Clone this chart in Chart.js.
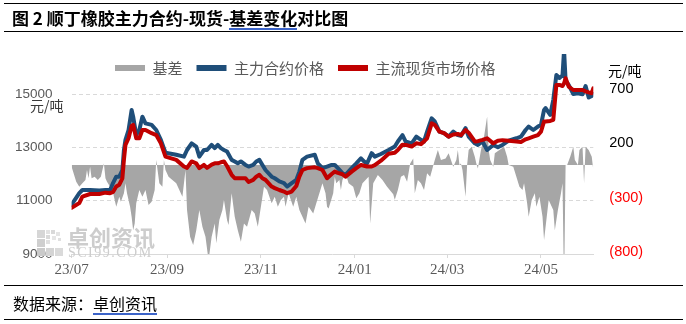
<!DOCTYPE html>
<html>
<head>
<meta charset="utf-8">
<script src="https://cdn.jsdelivr.net/npm/chart.js@4.4.1/dist/chart.umd.min.js"></script>
<style>
  html, body { margin: 0; padding: 0; background: #fff; }
  #page { position: relative; width: 686px; height: 324px; overflow: hidden; font-family: "Noto Sans CJK SC", sans-serif; }
  #chart { position: absolute; left: 0; top: 0; }
  .rule { position: absolute; left: 4px; right: 3px; height: 0; border-top: 1.5px solid #000; z-index: 2; }
  #title { position: absolute; left: 12px; top: 5px; font-size: 17px; font-weight: bold; line-height: 26px; color: #000; white-space: nowrap; z-index: 2; }
  #title .ul { border-bottom: 2px solid #3b63c8; line-height: 20px; display: inline-block; }
  #source { position: absolute; left: 13px; top: 290px; font-size: 16px; line-height: 26px; color: #000; white-space: nowrap; z-index: 2; }
  #source .ul { border-bottom: 2px solid #3b63c8; line-height: 20px; display: inline-block; }
</style>
</head>
<body>
<div id="page">
  <div class="rule" style="top:3px"></div>
  <div id="title">图 2 顺丁橡胶主力合约-现货-<span class="ul">基差变化</span>对比图</div>
  <div class="rule" style="top:31px"></div>
  <canvas id="chart" width="686" height="324"></canvas>
  <div class="rule" style="top:285px"></div>
  <div id="source">数据来源：<span class="ul">卓创资讯</span></div>
  <div class="rule" style="top:319px"></div>
</div>
<script>
// x 轴：自 2023-07-01 起的天数
const monthTickDays = [0, 62, 123, 184, 244, 305];
const monthLabels = ['23/07', '23/09', '23/11', '24/01', '24/03', '24/05'];
const priceTicks = [9000, 11000, 13000, 15000];
const basisTicks = [-800, -300, 200, 700];

// 价格（元/吨）
const priceDays = [
  0, 5, 7, 12, 18, 22, 25, 27, 29, 31,
  33, 34, 35, 37, 39, 40, 42, 44, 46, 48,
  52, 55, 58, 61, 68, 73, 75, 78, 81, 83,
  86, 88, 91, 93, 95, 97, 99, 101, 104, 106,
  108, 110, 113, 115, 118, 120, 122, 124, 126, 130,
  132, 135, 138, 140, 143, 146, 148, 150, 153, 158,
  160, 163, 166, 169, 171, 173, 176, 178, 182, 185,
  188, 190, 192, 195, 197, 201, 206, 210, 212, 215,
  217, 221, 224, 227, 229, 231, 234, 236, 239, 242,
  245, 248, 251, 253, 256, 258, 262, 264, 267, 270,
  274, 277, 280, 284, 289, 292, 295, 297, 300, 303,
  305, 307, 308, 311, 313, 315, 317, 319, 320, 321,
  323, 326, 329, 332, 334, 336, 338, 339
];
const futures = [
  10850, 11280, 11400, 11400, 11380, 11400, 11400, 11670, 11900, 11900,
  12150, 12900, 13280, 13650, 14400, 14150, 13460, 13650, 14150, 13900,
  13840, 13650, 13280, 12800, 12720, 12650, 12900, 13150, 13030, 12650,
  12900, 12900, 13090, 12970, 13090, 12970, 12900, 12840, 12530, 12470,
  12400, 12470, 12340, 12280, 12340, 12470, 12530, 12340, 12150, 11900,
  11840, 11720, 11660, 11530, 11660, 11780, 12090, 12530, 12650, 12720,
  12400, 12220, 12280, 12340, 12340, 12220, 12030, 11970, 12220, 12400,
  12590, 12470, 12400, 12780, 12650, 12750, 12900, 13030, 13220, 13460,
  13220, 13150, 13400, 13280, 13220, 13590, 14090, 13970, 13590, 13530,
  13400, 13590, 13460, 13430, 13720, 13400, 13150, 13090, 13220, 12900,
  13090, 13000, 13090, 13250, 13340, 13400, 13650, 13780, 13650, 13780,
  13840, 14400, 14470, 14220, 14780, 15710, 15600, 15700, 16650, 15500,
  15340, 15000, 15030, 14990, 15300, 14870, 14930, 15000
];
const spot = [
  10730, 10910, 11150, 11250, 11250, 11300, 11280, 11330, 11530, 11600,
  11840, 12530, 13090, 13340, 13800, 13840, 13340, 13340, 13650, 13650,
  13530, 13460, 13150, 12650, 12530, 12280, 12230, 12470, 12400, 12220,
  12340, 12230, 12350, 12400, 12400, 12440, 12470, 12300, 11970, 11840,
  11840, 11840, 11840, 11700, 11780, 11900, 11970, 11840, 11780, 11530,
  11470, 11400, 11340, 11280, 11340, 11550, 11900, 12150, 12220, 12250,
  12220, 12150, 11840, 12000, 12090, 12040, 11990, 11900, 12090, 12220,
  12340, 12310, 12280, 12280, 12330, 12500, 12760, 12800, 12900, 13100,
  13090, 13030, 13150, 13120, 13220, 13340, 13900, 13840, 13590, 13530,
  13400, 13480, 13500, 13460, 13650, 13550, 13220, 13230, 13280, 13340,
  13150, 13250, 13270, 13250, 13220, 13200, 13300, 13340, 13400, 13460,
  13590, 13970, 13970, 13990, 14030, 15340, 15340, 15300, 15400, 15590,
  15280, 15150, 15150, 15150, 15100, 15060, 15030, 15210
];

// 基差（元/吨）
const basisDays = [
  0, 1, 3, 5, 7, 9, 10, 11, 12, 13,
  15, 17, 19, 21, 22, 23, 25, 27, 29, 31,
  32, 34, 35, 36, 38, 39, 40, 41, 42, 44,
  46, 48, 50, 52, 54, 55, 57, 59, 60, 61,
  63, 68, 72, 74, 75, 77, 79, 81, 83, 85,
  87, 89, 91, 93, 94, 96, 98, 99, 101, 102,
  104, 106, 108, 110, 112, 114, 117, 119, 121, 123,
  125, 127, 130, 132, 134, 136, 138, 139, 141, 144,
  146, 148, 150, 152, 154, 157, 159, 161, 163, 165,
  166, 167, 170, 171, 172, 174, 175, 176, 178, 180,
  183, 185, 187, 189, 191, 193, 194, 196, 199, 202,
  205, 209, 210, 212, 214, 216, 218, 220, 222, 223,
  225, 227, 229, 231, 233, 236, 238, 240, 243, 245,
  248, 250, 251, 252, 253, 254, 256, 257, 258, 260,
  262, 263, 264, 266, 268, 270, 271, 272, 274, 275,
  278, 281, 283, 284, 287, 289, 291, 293, 294, 296,
  297, 299, 301, 302, 304, 306, 307, 309, 310, 313,
  314, 316, 318, 319, 320, 321, 322, 324, 326, 327,
  329, 330, 332, 333, 334, 336, 338, 339
];
const basis = [
  -15, -61, -154, -200, -169, -138, -46, -123, -15, -123,
  -108, -138, -108, 15, -123, -154, -200, -261, -384, -292,
  -338, -261, -169, -261, -384, -476, -600, -538, -353, -230,
  -292, -230, -369, -338, -230, 46, -169, -200, 46, -46,
  -108, -169, -292, -46, -415, -661, -738, -600, -415, -569,
  -661, -880, -661, -538, -722, -507, -415, -323, -507, -553,
  -261, -476, -600, -707, -538, -569, -415, -446, -569, -384,
  -200, -230, -353, -292, -384, -323, -292, -384, -261, -384,
  -292, -415, -476, -538, -384, -446, -353, -261, -169, -261,
  -384, -400, -261, -108, -169, -138, -230, -138, -77, -169,
  -200, -307, -261, -169, -138, -108, -538, -169, -92, -138,
  -200, -270, -320, -230, -108, -92, -154, 15, 61, -261,
  -138, -169, -230, -77, -108, 46, 138, 46, 61, 108,
  -15, 46, 138, 0, 15, -46, -292, 0, 138, 169,
  77, 15, -31, 138, 261, 446, 138, 46, -15, 108,
  138, 169, 77, 0, -15, -108, -200, -230, -169, -353,
  -476, -323, -261, -384, -292, -476, -691, -446, -323, -415,
  -600, -415, -261, -169, -1150, 0, 0, 77, 169, 46,
  0, 138, 169, -169, 169, 138, 77, -46
];

const toPoints = (days, values) => days.map((d, i) => ({ x: d, y: values[i] }));

const CJK = '"Noto Sans CJK SC", sans-serif';

// 水印与单位文字
const decorations = {
  id: 'decorations',
  beforeDatasetsDraw(chart) {
    const ctx = chart.ctx;
    ctx.save();
    // 方块标志
    const cells = [
      [37, 230, 8, '#d6d6d6'], [46, 230, 4, '#e2e2e2'], [51, 230, 4, '#d9d9d9'], [56, 232, 4, '#e4e4e4'],
      [46, 235, 4, '#d9d9d9'], [52, 236, 4, '#e6e6e6'], [58, 238, 3, '#e0e0e0'],
      [37, 239, 8, '#cfcfcf'], [46, 240, 4, '#e0e0e0'],
      [37, 248, 8, '#cacaca'], [46, 248, 8, '#d4d4d4'], [55, 248, 8, '#dadada']
    ];
    cells.forEach(([x, y, s, c]) => { ctx.fillStyle = c; ctx.fillRect(x, y, s, s); });
    ctx.fillStyle = '#cdcdcd';
    ctx.textBaseline = 'middle';
    ctx.font = 'bold 22px ' + CJK;
    ctx.fillText('卓创资讯', 67, 238);
    ctx.font = '14px "Liberation Serif"';
    ctx.letterSpacing = '1.5px';
    ctx.fillText('SCI99.COM', 68, 253);
    ctx.restore();
  },
  afterDraw(chart) {
    const ctx = chart.ctx;
    ctx.save();
    ctx.font = '14px ' + CJK;
    ctx.textBaseline = 'middle';
    ctx.fillStyle = '#3a3a3a';
    ctx.fillText('元/吨', 30, 106);
    ctx.fillStyle = '#000';
    ctx.fillText('元/吨', 608, 71);
    ctx.restore();
  }
};

// 图例压在绘图区上方，不占用布局高度
const legendSpot = {
  id: 'legendSpot',
  beforeLayout(chart) {
    const lg = chart.legend;
    if (lg && !lg._flat) {
      const fit = lg.fit.bind(lg);
      lg.fit = function () { fit(); this.height = 0; };
      lg._flat = true;
    }
  },
  afterLayout(chart) {
    const lg = chart.legend;
    const pad = lg.options.labels.padding;
    lg.left = 115 - pad;
    lg.right = 686;
    lg.top = 68 - 7.5 - pad;
    lg.bottom = lg.top + 40;
  }
};

new Chart(document.getElementById('chart').getContext('2d'), {
  type: 'line',
  data: {
    datasets: [
      {
        label: '基差',
        data: toPoints(basisDays, basis),
        yAxisID: 'y1',
        fill: 'origin',
        backgroundColor: '#a6a6a6',
        borderWidth: 0,
        pointRadius: 0,
        order: 3,
        swatch: '#a6a6a6'
      },
      {
        label: '主力合约价格',
        data: toPoints(priceDays, futures),
        yAxisID: 'y',
        borderColor: '#1f4e79',
        borderWidth: 4,
        borderJoinStyle: 'round',
        borderCapStyle: 'round',
        pointRadius: 0,
        fill: false,
        order: 2,
        swatch: '#1f4e79'
      },
      {
        label: '主流现货市场价格',
        data: toPoints(priceDays, spot),
        yAxisID: 'y',
        borderColor: '#c00000',
        borderWidth: 4,
        borderJoinStyle: 'round',
        borderCapStyle: 'round',
        pointRadius: 0,
        fill: false,
        order: 1,
        swatch: '#c00000'
      }
    ]
  },
  options: {
    responsive: false,
    animation: false,
    layout: { padding: { top: 54, bottom: 40, left: 0, right: 0 } },
    plugins: {
      tooltip: { enabled: false },
      legend: {
        position: 'top',
        align: 'start',
        labels: {
          boxWidth: 30,
          boxHeight: 6,
          padding: 14,
          color: '#595959',
          font: { family: CJK, size: 15 },
          sort: (a, b) => a.datasetIndex - b.datasetIndex,
          generateLabels: (chart) => chart.data.datasets.map((ds, i) => ({
            text: ds.label,
            fillStyle: ds.swatch,
            strokeStyle: ds.swatch,
            lineWidth: 0,
            hidden: false,
            datasetIndex: i,
            fontColor: '#595959'
          }))
        }
      }
    },
    scales: {
      x: {
        type: 'linear',
        min: 0,
        max: 339,
        afterBuildTicks: (scale) => { scale.ticks = monthTickDays.map(v => ({ value: v })); },
        afterFit: (scale) => { scale.height = 30; },
        ticks: {
          autoSkip: false,
          maxRotation: 0,
          padding: 3,
          color: '#595959',
          font: { family: '"Liberation Serif"', size: 15 },
          callback: (value) => monthLabels[monthTickDays.indexOf(value)]
        },
        grid: { drawOnChartArea: false, drawTicks: true, tickLength: 4, color: '#d9d9d9' },
        border: { display: true, color: '#d9d9d9', width: 1 }
      },
      y: {
        position: 'left',
        min: 9000,
        max: 16500,
        afterBuildTicks: (scale) => { scale.ticks = priceTicks.map(v => ({ value: v })); },
        afterFit: (scale) => { scale.width = 71.6; },
        ticks: {
          padding: 19,
          color: '#595959',
          font: { family: '"Liberation Sans"', size: 13.5 },
          callback: (value) => String(value)
        },
        grid: {
          drawTicks: false,
          color: (c) => (c.tick && c.tick.value === 9000 ? 'rgba(0,0,0,0)' : '#d9d9d9')
        },
        border: { display: false, dash: [4, 3] }
      },
      y1: {
        position: 'right',
        min: -820,
        max: 1023,
        afterBuildTicks: (scale) => { scale.ticks = basisTicks.map(v => ({ value: v })); },
        afterFit: (scale) => { scale.width = 92.7; },
        ticks: {
          padding: 16,
          font: { family: '"Liberation Sans"', size: 14.5 },
          color: (c) => (c.tick && c.tick.value < 0 ? '#ff0000' : '#000000'),
          callback: (value) => (value < 0 ? '(' + (-value) + ')' : String(value))
        },
        grid: { drawOnChartArea: false, drawTicks: false },
        border: { display: false }
      }
    }
  },
  plugins: [decorations, legendSpot]
});
</script>
</body>
</html>
